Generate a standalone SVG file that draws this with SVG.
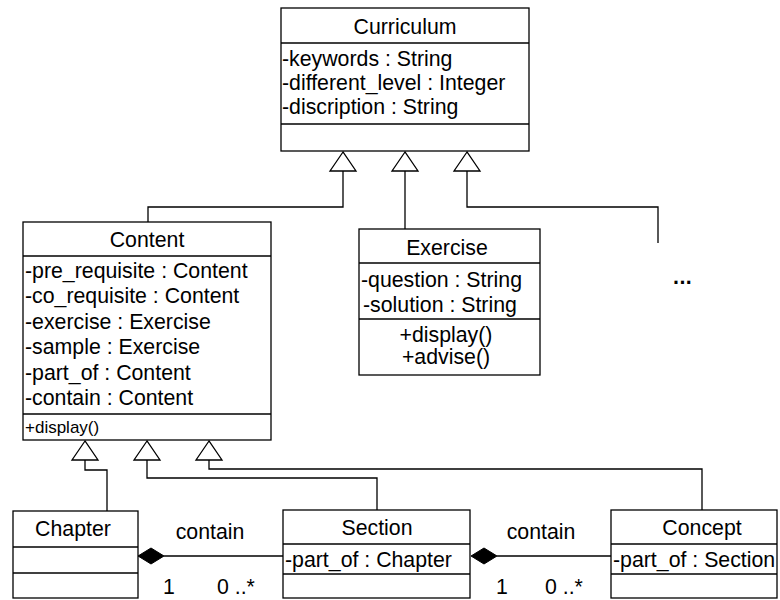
<svg xmlns="http://www.w3.org/2000/svg" width="780" height="600" viewBox="0 0 780 600">
  <style>
    .box { fill: #ffffff; stroke: #000000; stroke-width: 1.3; }
    .sep { stroke: #000000; stroke-width: 1.3; }
    .line { fill: none; stroke: #000000; stroke-width: 1.3; }
    .tri { fill: #ffffff; stroke: #000000; stroke-width: 1.3; }
    .dia { fill: #000000; stroke: #000000; stroke-width: 1; }
    text { font-family: "Liberation Sans", Arial, sans-serif; font-size: 21.3px; fill: #000000; }
    .c { text-anchor: middle; }
    .small { font-size: 17px; }
  </style>

  <!-- connectors: generalizations and compositions -->
  <g id="connectors">
    <!-- Content, Exercise and the unnamed subclass to Curriculum -->
    <polyline class="line" points="343,171 343,207 148,207 148,222"/>
    <polyline class="line" points="405,171 405,229"/>
    <polyline class="line" points="467,171 467,207 658,207 658,243"/>
    <polygon class="tri" points="343,152 330,171 356,171"/>
    <polygon class="tri" points="405,152 392,171 418,171"/>
    <polygon class="tri" points="467,152 454,171 480,171"/>

    <!-- Chapter, Section and Concept to Content -->
    <polyline class="line" points="85,460 85,470 107,470 107,511"/>
    <polyline class="line" points="147,460 147,478 377,478 377,510"/>
    <polyline class="line" points="209,460 209,469 702,469 702,510"/>
    <polygon class="tri" points="85,441 72,460 98,460"/>
    <polygon class="tri" points="147,441 134,460 160,460"/>
    <polygon class="tri" points="209,441 196,460 222,460"/>

    <!-- Chapter contains Section -->
    <line class="line" x1="164" y1="556" x2="283" y2="556"/>
    <polygon class="dia" points="138,556 151,548 164,556 151,564"/>
    <text class="c" x="210" y="539">contain</text>
    <text x="163" y="594">1</text>
    <text x="217" y="594">0 ..*</text>

    <!-- Section contains Concept -->
    <line class="line" x1="497" y1="556" x2="611" y2="556"/>
    <polygon class="dia" points="471,556 484,548 497,556 484,564"/>
    <text class="c" x="541" y="539">contain</text>
    <text x="496" y="594">1</text>
    <text x="545" y="594">0 ..*</text>
  </g>

  <!-- Curriculum -->
  <g id="curriculum">
    <rect class="box" x="281" y="8" width="248" height="143"/>
    <line class="sep" x1="281" y1="43" x2="529" y2="43"/>
    <line class="sep" x1="281" y1="124" x2="529" y2="124"/>
    <text class="c" x="405" y="34">Curriculum</text>
    <text x="282" y="66">-keywords : String</text>
    <text x="282" y="90">-different_level : Integer</text>
    <text x="282" y="114">-discription : String</text>
  </g>

  <!-- Content -->
  <g id="content">
    <rect class="box" x="23" y="222" width="248" height="218"/>
    <line class="sep" x1="23" y1="256" x2="271" y2="256"/>
    <line class="sep" x1="23" y1="414" x2="271" y2="414"/>
    <text class="c" x="147" y="247">Content</text>
    <text x="25" y="278">-pre_requisite : Content</text>
    <text x="25" y="303">-co_requisite : Content</text>
    <text x="25" y="329">-exercise : Exercise</text>
    <text x="25" y="354">-sample : Exercise</text>
    <text x="25" y="380">-part_of : Content</text>
    <text x="25" y="405">-contain : Content</text>
    <text class="small" x="25" y="433">+display()</text>
  </g>

  <!-- Exercise -->
  <g id="exercise">
    <rect class="box" x="359" y="229" width="181" height="146"/>
    <line class="sep" x1="359" y1="263" x2="540" y2="263"/>
    <line class="sep" x1="359" y1="319" x2="540" y2="319"/>
    <text class="c" x="447" y="255">Exercise</text>
    <text x="361" y="287">-question : String</text>
    <text x="363" y="312">-solution : String</text>
    <text class="c" x="446" y="342">+display()</text>
    <text class="c" x="446" y="364">+advise()</text>
  </g>

  <!-- further subclasses -->
  <g id="more">
    <text x="673" y="284" font-weight="bold" font-size="24" letter-spacing="0.5">...</text>
  </g>

  <!-- Chapter -->
  <g id="chapter">
    <rect class="box" x="13" y="511" width="125" height="87"/>
    <line class="sep" x1="13" y1="547" x2="138" y2="547"/>
    <line class="sep" x1="13" y1="573" x2="138" y2="573"/>
    <text class="c" x="73" y="536">Chapter</text>
  </g>

  <!-- Section -->
  <g id="section">
    <rect class="box" x="283" y="510" width="187" height="88"/>
    <line class="sep" x1="283" y1="544" x2="470" y2="544"/>
    <line class="sep" x1="283" y1="574" x2="470" y2="574"/>
    <text class="c" x="377" y="535">Section</text>
    <text x="285" y="567">-part_of : Chapter</text>
  </g>

  <!-- Concept -->
  <g id="concept">
    <rect class="box" x="611" y="510" width="166" height="88"/>
    <line class="sep" x1="611" y1="544" x2="777" y2="544"/>
    <line class="sep" x1="611" y1="574" x2="777" y2="574"/>
    <text class="c" x="702" y="535">Concept</text>
    <text x="613" y="567">-part_of : Section</text>
  </g>
</svg>
